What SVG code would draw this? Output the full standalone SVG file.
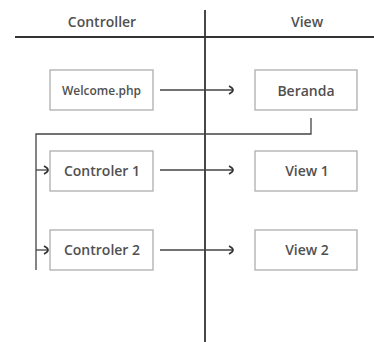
<svg xmlns="http://www.w3.org/2000/svg" width="374" height="342" viewBox="0 0 374 342">
<style>
.box{fill:#fff;stroke:#b4b4b4;stroke-width:1.4}
.lbl{font-family:"Open Sans",sans-serif;font-weight:600;font-size:14px;fill:#505050;text-anchor:middle}
.hdr{font-family:"Open Sans",sans-serif;font-weight:600;font-size:14px;fill:#505050;text-anchor:middle}
.ln{fill:none;stroke:#444;stroke-width:1.3}
.axis{fill:none;stroke:#333;stroke-width:1.8}
</style>
<defs>
<marker id="chev" markerWidth="8" markerHeight="10" refX="5" refY="5" orient="auto" markerUnits="userSpaceOnUse">
<path d="M1,1 Q5,3 5,5 Q5,7 1,9" fill="none" stroke="#333" stroke-width="1.7"/>
</marker>
</defs>
<rect width="374" height="342" fill="#fff"/>
<g id="axes">
<line class="axis" x1="205" y1="10" x2="205" y2="342"/>
<line class="axis" x1="15" y1="37" x2="374" y2="37"/>
<text class="hdr" x="102" y="27">Controller</text>
<text class="hdr" x="307" y="27">View</text>
</g>
<g id="connectors">
<line class="ln" x1="160" y1="90" x2="233" y2="90" marker-end="url(#chev)"/>
<line class="ln" x1="160" y1="170" x2="233" y2="170" marker-end="url(#chev)"/>
<line class="ln" x1="160" y1="250" x2="233" y2="250" marker-end="url(#chev)"/>
<polyline class="ln" points="311,118 311,134 36,134 36,270"/>
<line class="ln" x1="36" y1="170" x2="48" y2="170" marker-end="url(#chev)"/>
<line class="ln" x1="36" y1="250" x2="48" y2="250" marker-end="url(#chev)"/>
</g>
<g id="welcome">
<rect class="box" x="50" y="70" width="103" height="40"/>
<text class="lbl" x="101.5" y="95" style="font-size:12px">Welcome.php</text>
</g>
<g id="beranda">
<rect class="box" x="255" y="70" width="102" height="40"/>
<text class="lbl" x="306" y="95.5">Beranda</text>
</g>
<g id="controler1">
<rect class="box" x="50" y="151" width="103" height="40"/>
<text class="lbl" x="102" y="176">Controler 1</text>
</g>
<g id="view1">
<rect class="box" x="255" y="151" width="102" height="40"/>
<text class="lbl" x="307" y="176">View 1</text>
</g>
<g id="controler2">
<rect class="box" x="50" y="230" width="103" height="40"/>
<text class="lbl" x="102" y="255">Controler 2</text>
</g>
<g id="view2">
<rect class="box" x="255" y="230" width="102" height="40"/>
<text class="lbl" x="307" y="255">View 2</text>
</g>
</svg>
